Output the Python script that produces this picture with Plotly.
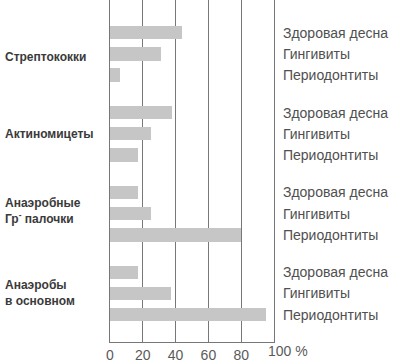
import plotly.graph_objects as go

groups = ["Стрептококки", "Актиномицеты", "Анаэробные<br>Гр<sup>-</sup> палочки", "Анаэробы<br>в основном"]
series = ["Здоровая десна", "Гингивиты", "Периодонтиты"]
values = [
    [44, 31, 6],
    [38, 25, 17],
    [17, 25, 80],
    [17, 37, 95],
]
x_ticks = [0, 20, 40, 60, 80]
x_ticklabels = ["0", "20", "40", "60", "80"]

GSTEP = 3.8
label_yshift = [-3, 0, 3, 1]

ys, xs, tvals, ttext = [], [], [], []
for g, row in enumerate(values):
    for s, v in enumerate(row):
        pos = g * GSTEP + s
        ys.append(pos)
        xs.append(v)
        tvals.append(pos)
        ttext.append(series[s])

fig = go.Figure(go.Bar(
    x=xs, y=ys, orientation="h", width=0.65,
    marker=dict(color="#c6c6c6", line=dict(width=0)),
))

annotations = []
for g, name in enumerate(groups):
    annotations.append(dict(
        x=-0.655, xref="paper", y=g * GSTEP + 1, yref="y",
        text="<b>" + name + "</b>", showarrow=False, xanchor="left", yanchor="middle",
        align="left", yshift=label_yshift[g],
        font=dict(family="Liberation Sans, Arial", size=12, color="#3a3a3a"),
    ))
annotations.append(dict(
    x=100, xref="x", y=0, yref="paper", text="100 %", showarrow=False,
    xanchor="left", yanchor="top", xshift=-8, yshift=1,
    font=dict(family="Liberation Sans, Arial", size=14, color="#5a5a5a"),
))

fig.update_layout(
    width=402, height=364,
    margin=dict(l=110, r=128, t=0, b=22),
    paper_bgcolor="white", plot_bgcolor="white",
    showlegend=False,
    bargap=0,
    font=dict(family="Liberation Sans, Arial", color="#505050"),
    xaxis=dict(
        range=[0, 100], tickvals=x_ticks, ticktext=x_ticklabels,
        showgrid=True, gridcolor="#777777", gridwidth=1.3, automargin=False,
        zeroline=False, showline=True, linecolor="#777777", linewidth=1.3,
        tickfont=dict(size=14, color="#5a5a5a"), ticks="", ticklabelstandoff=0,
    ),
    yaxis=dict(
        range=[3 * GSTEP + 2 + 1.3, -1.55], side="right", automargin=False,
        tickvals=tvals, ticktext=ttext, showgrid=False, zeroline=False,
        showline=True, mirror=True, linecolor="#777777", linewidth=1.3,
        ticks="", ticklabelstandoff=5,
        tickfont=dict(size=14, color="#505050"),
    ),
    annotations=annotations,
)

fig.write_html("out.html", config={"displayModeBar": False},
               post_script="document.body.style.margin='0';document.body.style.overflow='hidden';")
